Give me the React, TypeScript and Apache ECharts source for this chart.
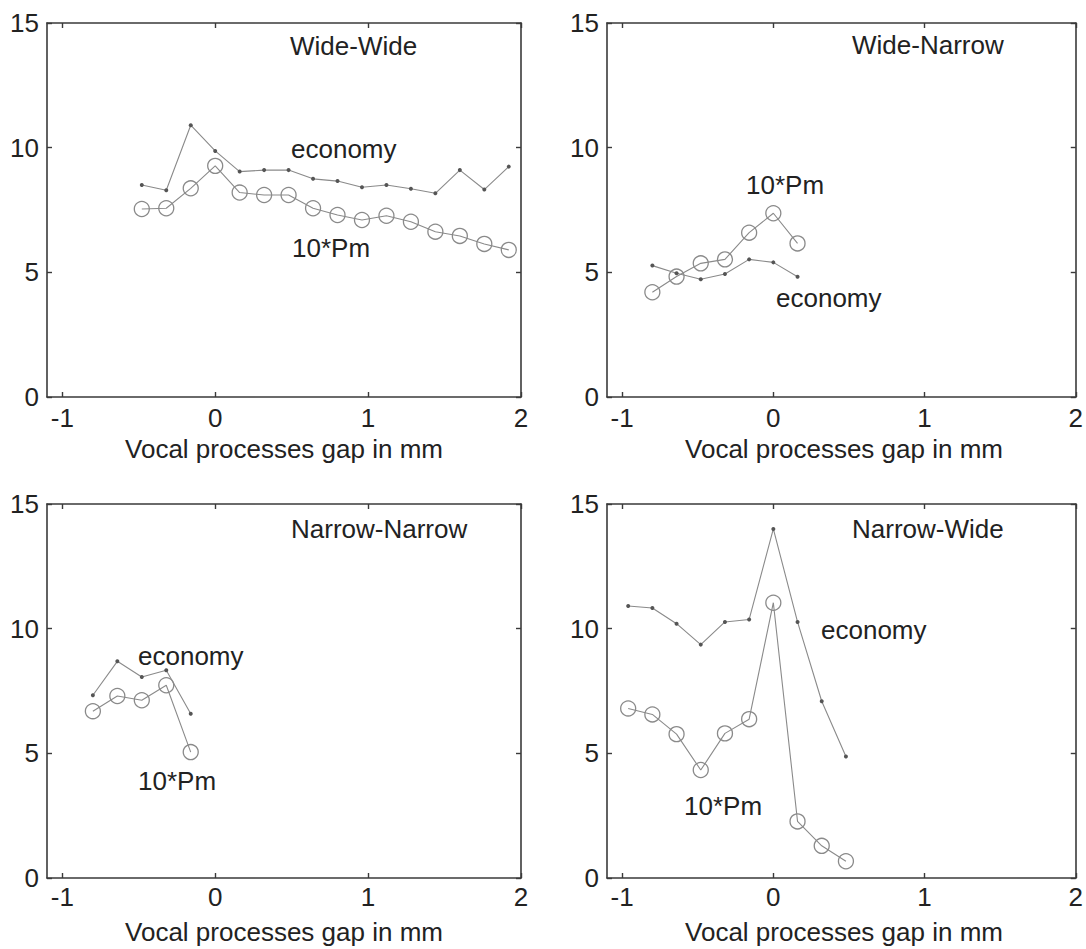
import React, { useEffect, useRef } from "react";
import * as echarts from "echarts";

// Wide-Wide
const X_WW = [-0.48, -0.32, -0.16, 0, 0.16, 0.32, 0.48, 0.64, 0.8, 0.96, 1.12, 1.28, 1.44, 1.6, 1.76, 1.92];
const ECON_WW = [8.5, 8.29, 10.9, 9.87, 9.04, 9.1, 9.1, 8.75, 8.66, 8.41, 8.5, 8.35, 8.17, 9.1, 8.32, 9.24];
const PM_WW = [7.54, 7.57, 8.37, 9.27, 8.2, 8.1, 8.1, 7.57, 7.3, 7.1, 7.27, 7.03, 6.63, 6.46, 6.14, 5.9];

// Wide-Narrow
const X_WN = [-0.8, -0.64, -0.48, -0.32, -0.16, 0, 0.16];
const ECON_WN = [5.27, 4.96, 4.72, 4.93, 5.52, 5.4, 4.82];
const PM_WN = [4.2, 4.83, 5.36, 5.52, 6.59, 7.37, 6.16];

// Narrow-Narrow
const X_NN = [-0.8, -0.64, -0.48, -0.32, -0.16];
const ECON_NN = [7.33, 8.69, 8.06, 8.33, 6.59];
const PM_NN = [6.69, 7.3, 7.13, 7.73, 5.05];

// Narrow-Wide
const X_NW = [-0.96, -0.8, -0.64, -0.48, -0.32, -0.16, 0, 0.16, 0.32, 0.48];
const ECON_NW = [10.91, 10.83, 10.2, 9.36, 10.27, 10.37, 14.0, 10.27, 7.09, 4.87];
const PM_NW = [6.8, 6.56, 5.77, 4.33, 5.8, 6.37, 11.04, 2.27, 1.29, 0.67];

const X_TICKS = [-1, 0, 1, 2];
const Y_TICKS = [0, 5, 10, 15];
const X_LABEL = "Vocal processes gap in mm";

const PANELS = [
  { title: "Wide-Wide", x: X_WW, econ: ECON_WW, pm: PM_WW },
  { title: "Wide-Narrow", x: X_WN, econ: ECON_WN, pm: PM_WN },
  { title: "Narrow-Narrow", x: X_NN, econ: ECON_NN, pm: PM_NN },
  { title: "Narrow-Wide", x: X_NW, econ: ECON_NW, pm: PM_NW },
];

// layout (pixels)
const GRIDS = [
  { left: 47, top: 23 },
  { left: 607, top: 23 },
  { left: 47, top: 504 },
  { left: 607, top: 504 },
];
const GW = 474;
const GH = 374;
const XLABEL_Y = [449, 449, 932, 932];
const TICK_MARGIN = [8, 8, 6, 6];

// annotation text positions (left x, middle y)
const ANNOT = [
  [
    { t: "Wide-Wide", x: 290, y: 46 },
    { t: "economy", x: 291, y: 149 },
    { t: "10*Pm", x: 292, y: 248 },
  ],
  [
    { t: "Wide-Narrow", x: 852, y: 45 },
    { t: "10*Pm", x: 746, y: 185 },
    { t: "economy", x: 776, y: 298 },
  ],
  [
    { t: "Narrow-Narrow", x: 291, y: 529 },
    { t: "economy", x: 138, y: 656 },
    { t: "10*Pm", x: 138, y: 781 },
  ],
  [
    { t: "Narrow-Wide", x: 852, y: 529 },
    { t: "economy", x: 821, y: 630 },
    { t: "10*Pm", x: 684, y: 806 },
  ],
];

const FONT = "'Liberation Sans', Arial, Helvetica, sans-serif";
const TEXT = "#222";
const AXIS = "#3a3a3a";
const LINE = "#8a8a8a";

export default function App() {
  const ref = useRef<HTMLDivElement>(null);
  useEffect(() => {
    if (!ref.current) return;
    const chart = echarts.init(ref.current, undefined, { renderer: "svg" });

    const grid: any[] = [];
    const xAxis: any[] = [];
    const yAxis: any[] = [];
    const series: any[] = [];
    const graphic: any[] = [];

    const axisLine = { show: true, onZero: false, lineStyle: { color: AXIS, width: 1.6 } };
    const tick = (vals: number[]) => ({
      show: true,
      inside: true,
      length: 5,
      customValues: vals,
      lineStyle: { color: AXIS, width: 1.4 },
    });

    PANELS.forEach((p, g) => {
      const G = GRIDS[g];
      grid.push({ left: G.left, top: G.top, width: GW, height: GH, containLabel: false });
      xAxis.push({
        type: "value",
        gridIndex: g,
        position: "bottom",
        min: -1.1,
        max: 2,
        axisLine,
        axisTick: tick(X_TICKS),
        splitLine: { show: false },
        axisLabel: {
          show: true,
          customValues: X_TICKS,
          margin: TICK_MARGIN[g],
          fontSize: 26,
          lineHeight: 26,
          fontFamily: FONT,
          color: TEXT,
          showMinLabel: true,
          showMaxLabel: true,
        },
      });
      xAxis.push({
        type: "value",
        gridIndex: g,
        position: "top",
        min: -1.1,
        max: 2,
        axisLine,
        axisTick: tick(X_TICKS),
        splitLine: { show: false },
        axisLabel: { show: false },
      });
      yAxis.push({
        type: "value",
        gridIndex: g,
        position: "left",
        min: 0,
        max: 15,
        interval: 5,
        axisLine,
        axisTick: tick(Y_TICKS),
        splitLine: { show: false },
        axisLabel: {
          show: true,
          customValues: Y_TICKS,
          margin: 8,
          fontSize: 26,
          fontFamily: FONT,
          color: TEXT,
        },
      });
      yAxis.push({
        type: "value",
        gridIndex: g,
        position: "right",
        min: 0,
        max: 15,
        interval: 5,
        axisLine,
        axisTick: tick(Y_TICKS),
        splitLine: { show: false },
        axisLabel: { show: false },
      });

      series.push({
        type: "line",
        name: "economy",
        xAxisIndex: 2 * g,
        yAxisIndex: 2 * g,
        data: p.x.map((v, i) => [v, p.econ[i]]),
        symbol: "circle",
        symbolSize: 4,
        lineStyle: { color: LINE, width: 1.1 },
        itemStyle: { color: "#555" },
      });
      series.push({
        type: "line",
        name: "10*Pm",
        xAxisIndex: 2 * g,
        yAxisIndex: 2 * g,
        data: p.x.map((v, i) => [v, p.pm[i]]),
        symbol: "circle",
        symbolSize: 15,
        lineStyle: { color: LINE, width: 1.1 },
        itemStyle: { color: "rgba(0,0,0,0)", borderColor: "#8a8a8a", borderWidth: 1.3 },
      });

      ANNOT[g].forEach((a) => {
        graphic.push({
          type: "text",
          x: a.x,
          y: a.y,
          style: {
            text: a.t,
            font: `26px ${FONT}`,
            fill: TEXT,
            textAlign: "left",
            textVerticalAlign: "middle",
          },
        });
      });
      graphic.push({
        type: "text",
        x: G.left + GW / 2,
        y: XLABEL_Y[g],
        style: {
          text: X_LABEL,
          font: `26px ${FONT}`,
          lineHeight: 26,
          fill: TEXT,
          textAlign: "center",
          textVerticalAlign: "middle",
        },
      });
    });

    chart.setOption({
      animation: false,
      backgroundColor: "#fff",
      grid,
      xAxis,
      yAxis,
      series,
      graphic,
    });
    return () => chart.dispose();
  }, []);

  return (
    <div
      ref={ref}
      style={{ position: "fixed", left: 0, top: 0, width: 1086, height: 949, background: "#fff" }}
    />
  );
}
